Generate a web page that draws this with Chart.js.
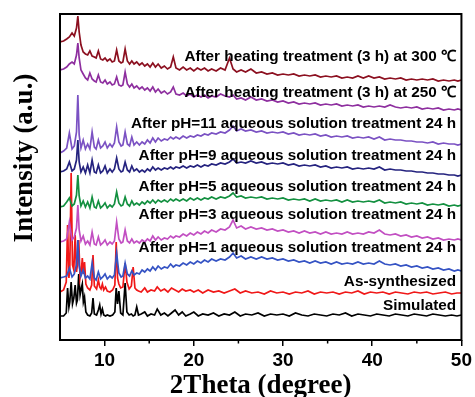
<!DOCTYPE html>
<html>
<head>
<meta charset="utf-8">
<script src="https://cdn.jsdelivr.net/npm/chart.js@4"></script>
<style>
  body { margin: 0; background: #fff; }
  #wrap { width: 475px; height: 397px; }
</style>
</head>
<body>
<div id="wrap"><canvas id="xrd" width="475" height="397"></canvas></div>
<script>
// 2theta grid for the crystalline patterns (simulated / as-synthesized)
const gridCrystal = [5.0,5.4,5.7,5.85,6.0,6.1,6.25,6.4,6.55,6.7,6.85,6.95,7.1,7.25,7.4,7.5,7.62,7.75,7.9,8.1,
  8.35,8.55,8.7,8.85,9.1,9.3,9.45,9.6,9.75,9.9,10.1,10.3,10.6,10.9,11.15,11.3,11.45,11.6,11.8,12.05,
  12.3,12.5,12.75,13.0,13.2,13.4,13.6,13.8,14.1,14.5,14.8,15.2,15.6,15.9,16.3,16.7,17.1,17.5,17.9,18.3,
  18.7,19.1,19.6,20.0,20.5,21.0,21.6,22.2,22.8,23.4,24.0,24.6,25.2,25.8,26.5,27.2,27.9,28.6,29.3,30.0,
  30.7,31.4,32.1,32.8,33.5,34.2,34.9,35.6,36.3,37.0,37.7,38.4,39.1,39.8,40.5,41.2,41.9,42.6,43.3,44.0,
  44.7,45.4,46.1,46.8,47.5,48.2,48.9,49.5,50.0];

// 2theta grid for the treated samples
const gridTreated = [5.0,5.4,5.75,6.05,6.35,6.6,6.85,7.0,7.15,7.35,7.6,7.85,8.1,8.35,8.6,8.85,9.05,9.3,9.55,9.8,
  10.05,10.3,10.6,10.85,11.1,11.35,11.6,11.85,12.05,12.3,12.55,12.8,13.05,13.3,13.6,13.9,14.2,14.5,14.8,15.1,
  15.4,15.7,16.0,16.35,16.7,17.05,17.4,17.7,18.0,18.4,18.8,19.2,19.6,20.0,20.4,20.8,21.2,21.6,22.0,22.5,
  23.0,23.5,24.0,24.4,24.8,25.3,25.8,26.4,27.0,27.6,28.2,28.8,29.4,30.0,30.6,31.2,31.8,32.4,33.0,33.6,
  34.2,34.8,35.4,36.0,36.6,37.2,37.8,38.4,39.0,39.6,40.2,40.8,41.4,42.0,42.6,43.2,43.8,44.4,45.0,45.6,
  46.2,46.8,47.4,48.0,48.6,49.2,49.6,50.0];

// intensities (a.u., already stacked)
const simulated = [24,24,27,52,33,38,58,36,42,55,37,40,66,45,52,56,38,43,28,25,
  24,27,42,26,25,30,35,26,31,25,24,25,24,25,28,52,36,49,27,25,
  57,28,25,26,24,25,33,25,26,28,24,26,25,31,25,27,24,27,30,25,
  28,24,26,28,24,26,25,27,24,26,25,28,24,26,25,27,24,26,25,26,
  24,27,25,24,26,25,24,26,25,27,24,26,25,24,26,25,24,26,25,24,
  26,25,24,26,25,24,25,24,25];

const asSynthesized = [48,50,58,115,62,72,167,75,70,105,68,75,100,62,70,82,66,78,56,52,
  50,55,85,54,51,60,53,51,56,50,53,49,48,50,55,98,62,56,52,53,
  77,58,51,54,73,52,50,49,48,52,48,50,49,53,49,51,48,52,50,48,
  51,49,50,48,50,47,50,48,49,47,49,51,47,49,47,48,46,49,47,48,
  46,48,47,49,46,48,47,48,46,48,47,49,46,48,47,48,46,48,47,46,
  48,47,48,46,47,48,46,47,47];

const pH1 = [62,63,64,72,63,66,75,100,74,64,70,62,64,61,77,62,60,68,61,63,
  66,61,64,62,65,87,67,63,64,77,66,64,69,65,67,66,70,68,71,69,
  73,70,74,71,73,72,76,73,75,74,77,75,78,76,79,77,80,78,81,79,
  81,80,83,87,82,84,81,83,81,83,81,82,80,81,79,80,78,79,77,79,
  77,78,76,78,76,77,76,78,76,77,76,79,76,75,76,74,75,73,74,72,
  73,71,72,70,71,69,70,69];

const pH3 = [98,99,101,118,100,103,112,135,110,99,104,96,99,95,108,96,95,103,95,97,
  100,95,98,96,99,118,101,97,98,110,99,97,101,97,99,97,100,98,101,99,
  104,100,103,100,102,101,104,102,104,103,106,104,107,105,108,106,109,107,110,108,
  111,110,113,120,112,114,111,113,111,112,110,111,109,110,108,109,107,109,107,108,
  106,108,106,107,106,108,106,107,106,108,107,110,106,105,106,104,105,103,104,102,
  103,101,102,100,101,100,101,100];

const pH5 = [133,134,138,142,134,136,145,165,144,134,139,133,138,132,143,133,132,139,132,134,
  137,132,135,133,136,148,137,134,135,143,136,134,139,135,137,135,138,136,139,137,
  140,137,140,138,140,138,141,139,141,139,141,139,142,140,142,140,142,141,143,141,
  143,142,144,147,143,144,142,143,142,143,141,142,141,142,140,141,140,141,139,141,
  139,140,139,140,138,140,138,139,138,139,138,140,137,138,137,138,136,137,136,137,
  135,136,135,136,134,135,134,135];

const pH9 = [168,169,171,178,169,171,180,200,178,168,173,167,175,167,180,168,167,175,167,169,
  174,167,171,168,171,182,171,168,169,178,170,168,174,169,171,168,170,168,171,169,
  173,170,172,170,172,171,173,171,173,172,174,172,174,173,175,173,175,174,176,175,
  177,176,178,181,177,178,177,179,177,178,176,177,176,177,175,176,174,175,174,175,
  173,174,172,173,172,173,171,172,171,172,171,173,170,171,170,170,169,169,168,168,
  167,167,166,166,165,165,164,165];

const pH11 = [187,189,192,207,191,194,208,245,205,192,200,191,196,191,208,193,191,200,192,194,
  198,192,196,193,197,213,198,194,195,208,196,194,203,195,198,195,198,196,200,197,
  202,198,202,199,201,200,203,201,203,201,204,202,204,203,205,204,206,205,207,206,
  208,207,210,214,209,211,209,210,208,209,207,208,207,208,206,207,205,206,205,206,
  204,205,203,204,203,204,202,203,202,203,201,203,200,201,200,200,199,199,198,198,
  197,198,196,197,196,196,195,196];

const heat250 = [270,271,273,276,278,276,285,297,282,270,266,262,260,267,261,259,258,265,258,257,
  260,256,258,255,256,263,255,254,255,268,256,253,256,252,254,251,253,250,252,249,
  253,248,251,247,249,246,248,253,246,245,247,244,246,243,245,243,245,242,244,243,
  246,244,243,245,241,242,240,243,240,241,239,240,238,239,237,238,236,237,236,237,
  235,236,235,236,234,235,234,235,233,234,233,234,233,235,233,232,233,232,233,231,
  232,231,232,230,231,230,231,230];

const heat300 = [298,299,301,303,307,304,312,324,308,295,288,286,285,289,284,283,282,289,281,280,
  282,279,281,278,279,290,279,277,278,291,279,276,279,276,278,275,277,274,276,273,
  277,273,276,272,274,271,273,283,272,270,273,270,272,269,272,270,272,269,271,269,
  272,270,282,271,268,270,268,271,267,268,266,267,265,266,265,266,264,265,264,265,
  263,264,263,264,262,263,262,264,262,264,262,263,261,262,261,262,260,261,260,261,
  260,261,259,260,259,260,259,260];

const seriesNames = [
  'After heating treatment (3 h) at 300 \u2103',
  'After heating treatment (3 h) at 250 \u2103',
  'After pH=11 aqueous solution treatment 24 h',
  'After pH=9 aqueous solution treatment 24 h',
  'After pH=5 aqueous solution treatment 24 h',
  'After pH=3 aqueous solution treatment 24 h',
  'After pH=1 aqueous solution treatment 24 h',
  'As-synthesized',
  'Simulated'
];
const xTicks = [10, 20, 30, 40, 50];
const xMinorTicks = [15, 25, 35, 45];

// layout / style (not data)
const colors = ['#8c1020', '#8e2f9f', '#7b52c3', '#25237f', '#139040', '#c24fc2', '#3553c4', '#f01818', '#000000'];
const labelLevels = [283, 247, 216, 184, 153, 125, 92, 58, 34];
const labelX = 49.4;

const seriesData = [heat300, heat250, pH11, pH9, pH5, pH3, pH1, asSynthesized, simulated];
const seriesGrid = [gridTreated, gridTreated, gridTreated, gridTreated, gridTreated, gridTreated, gridTreated, gridCrystal, gridCrystal];

const datasets = seriesData.map((vals, i) => ({
  label: seriesNames[i],
  data: vals.map((v, j) => ({ x: seriesGrid[i][j], y: v })),
  borderColor: colors[i],
  borderWidth: 1.7,
  pointRadius: 0,
  tension: 0,
  fill: false
}));

const decor = {
  id: 'decor',
  afterDraw(chart) {
    const { ctx, chartArea: a, scales: { x, y } } = chart;
    ctx.save();
    ctx.strokeStyle = '#000';
    ctx.lineWidth = 2;
    ctx.strokeRect(a.left, a.top, a.right - a.left, a.bottom - a.top);

    ctx.lineWidth = 1.5;
    xMinorTicks.forEach(v => {
      const px = x.getPixelForValue(v);
      ctx.beginPath();
      ctx.moveTo(px, a.bottom);
      ctx.lineTo(px, a.bottom + 3.5);
      ctx.stroke();
    });

    ctx.fillStyle = '#000';
    ctx.font = 'bold 15.3px "Liberation Sans", Arial, sans-serif';
    ctx.textAlign = 'right';
    ctx.textBaseline = 'middle';
    seriesNames.forEach((t, i) => {
      ctx.fillText(t, x.getPixelForValue(labelX), y.getPixelForValue(labelLevels[i]));
    });

    ctx.translate(25, 158);
    ctx.rotate(-Math.PI / 2);
    ctx.font = 'bold 27px "Liberation Serif", "Times New Roman", serif';
    ctx.textAlign = 'center';
    ctx.fillText('Intensity (a.u.)', 0, 0);
    ctx.restore();
  }
};

new Chart(document.getElementById('xrd'), {
  type: 'line',
  data: { datasets: datasets },
  options: {
    responsive: false,
    animation: false,
    events: [],
    layout: { padding: { left: 0, top: 14, right: 13, bottom: 0 } },
    plugins: { legend: { display: false }, tooltip: { enabled: false } },
    scales: {
      x: {
        type: 'linear',
        min: 5,
        max: 50,
        afterBuildTicks: s => { s.ticks = xTicks.map(v => ({ value: v })); },
        afterFit: s => { s.height = 57; },
        border: { display: false },
        grid: { display: true, drawOnChartArea: false, drawTicks: true, tickLength: 6, color: '#000', lineWidth: 1.5 },
        ticks: {
          padding: 3,
          color: '#000',
          maxRotation: 0,
          font: { family: '"Liberation Sans", Arial, sans-serif', size: 19, weight: 'bold' }
        },
        title: {
          display: true,
          text: '2Theta (degree)',
          color: '#000',
          padding: { top: 0, bottom: 0 },
          font: { family: '"Liberation Serif", "Times New Roman", serif', size: 27, weight: 'bold', lineHeight: 0.8 }
        }
      },
      y: {
        min: 0,
        max: 326,
        afterFit: s => { s.width = 60; },
        border: { display: false },
        grid: { display: false },
        ticks: { display: false }
      }
    }
  },
  plugins: [decor]
});
</script>
</body>
</html>
